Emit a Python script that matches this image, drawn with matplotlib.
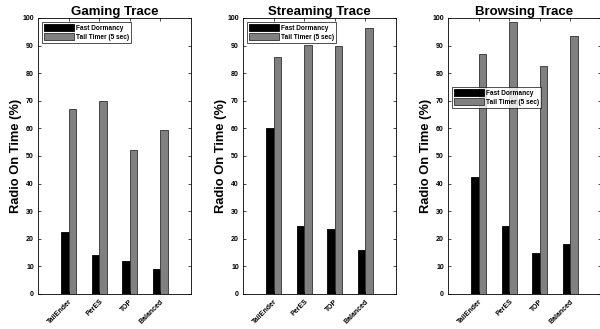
import numpy as np
import matplotlib.pyplot as plt

plt.rcParams['font.family'] = ['Liberation Sans', 'DejaVu Sans']

schemes = ['TailEnder', 'PerES', 'TOP', 'Balanced']
titles = ['Gaming Trace', 'Streaming Trace', 'Browsing Trace']

gaming_fd = [22.5, 14.3, 12.0, 9.0]
gaming_tt = [67.0, 70.0, 52.0, 59.5]
streaming_fd = [60.0, 24.5, 23.5, 16.0]
streaming_tt = [86.0, 90.2, 90.0, 96.3]
browsing_fd = [42.5, 24.5, 15.0, 18.0]
browsing_tt = [86.8, 98.5, 82.5, 93.5]

fd_all = [gaming_fd, streaming_fd, browsing_fd]
tt_all = [gaming_tt, streaming_tt, browsing_tt]

fig = plt.figure(figsize=(6, 3.29), dpi=100)
W, H = 600, 329
lefts = [38, 243, 448]
width_px = 153
bottom_px, top_px = 294, 18
legend_anchor = [(0.02, 0.99), (0.02, 0.99), (0.02, 0.755)]

x = np.arange(1, 5)
bw = 0.25
for k in range(3):
    ax = fig.add_axes([lefts[k] / W, 1 - bottom_px / H, width_px / W, (bottom_px - top_px) / H])
    ax.bar(x - bw / 2, fd_all[k], bw, color='black', edgecolor='black', linewidth=0.6, label='Fast Dormancy')
    ax.bar(x + bw / 2, tt_all[k], bw, color='#808080', edgecolor='#303030', linewidth=0.6, label='Tail Timer (5 sec)')
    ax.set_xlim(0, 5)
    ax.set_ylim(0, 100)
    ax.set_yticks(np.arange(0, 101, 10))
    ax.set_xticks(x)
    ax.set_xticklabels(schemes, rotation=45, ha='right', rotation_mode='anchor', fontsize=5, fontweight='bold')
    ax.tick_params(axis='y', labelsize=5)
    for lab in ax.get_yticklabels():
        lab.set_fontweight('bold')
    ax.tick_params(direction='in', top=True, right=True, length=2.5, width=0.5, pad=3)
    for s in ax.spines.values():
        s.set_linewidth(0.6)
    ax.set_title(titles[k], fontsize=9.5, fontweight='bold', pad=2)
    ax.set_ylabel('Radio On Time (%)', fontsize=9.3, fontweight='bold')
    ax.yaxis.set_label_coords(-0.105, 0.5)
    leg = ax.legend(loc='upper left', bbox_to_anchor=legend_anchor[k], prop={'weight': 'bold', 'size': 4.7},
                    frameon=True, fancybox=False, edgecolor='black', borderpad=0.3, handlelength=4.5,
                    handleheight=1.3, labelspacing=0.2, borderaxespad=0.2, handletextpad=0.4)
    leg.get_frame().set_linewidth(0.6)

fig.savefig('out.png', dpi=100)
